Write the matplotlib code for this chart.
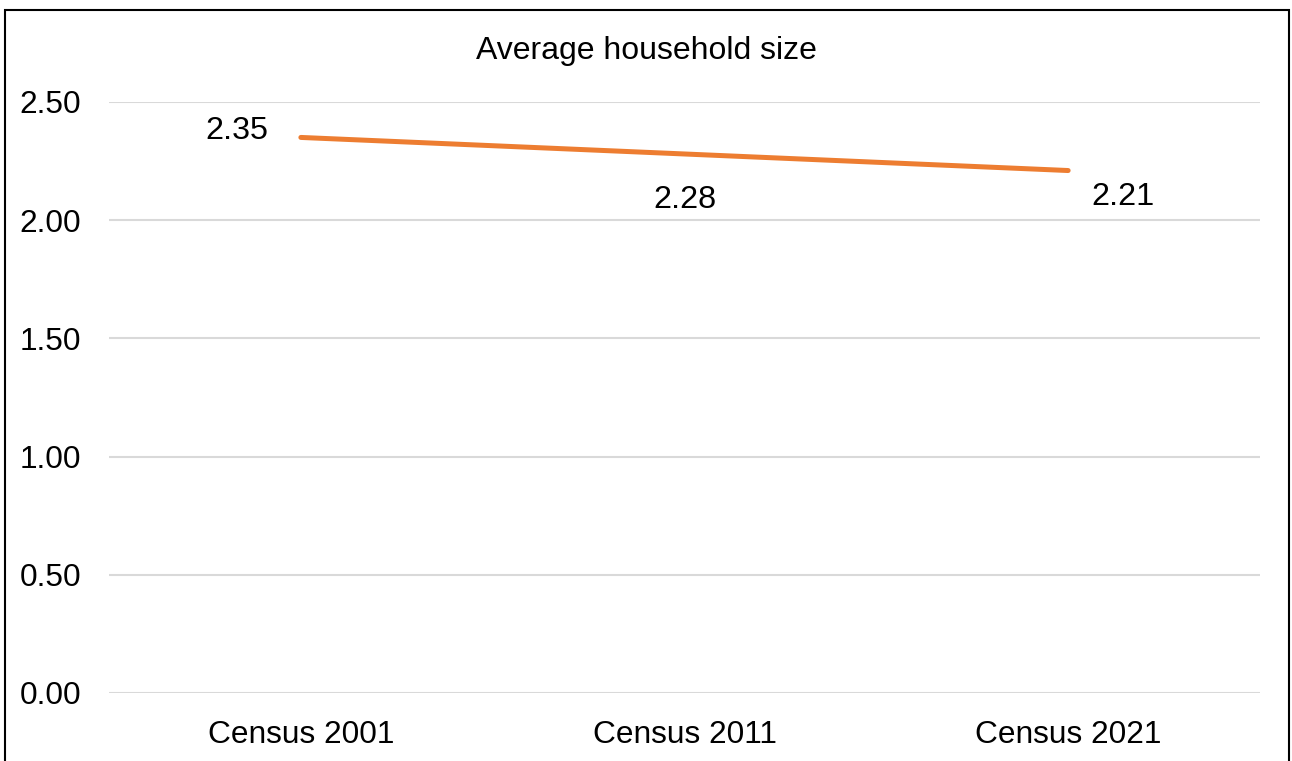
import matplotlib.pyplot as plt
from matplotlib.patches import Rectangle

plt.rcParams['font.family'] = ['Liberation Sans', 'DejaVu Sans']

censuses = ['Census 2001', 'Census 2011', 'Census 2021']
household_size = [2.35, 2.28, 2.21]
y_ticks = [0.0, 0.5, 1.0, 1.5, 2.0, 2.5]

# label offsets in pixels from each point
label_offsets = [(-64, 6), (0, -46), (55, -26)]

fig = plt.figure(figsize=(12.92, 7.61), dpi=100)
ax = fig.add_axes([0.0844, 0.0894, 0.8908, 0.7766])

x = list(range(len(censuses)))
ax.plot(x, household_size, color='#ED7D31', linewidth=3.6, solid_capstyle='round', zorder=3)

for xi, val, off in zip(x, household_size, label_offsets):
    ax.annotate(f'{val:.2f}', (xi, val), xytext=off, textcoords='offset pixels',
                ha='center', va='center', fontsize=23.3, color='black')

ax.set_xlim(-0.5, len(censuses) - 0.5)
ax.set_ylim(0, 2.5)
ax.set_xticks(x)
ax.set_xticklabels(censuses)
ax.set_yticks(y_ticks)
ax.set_yticklabels([f'{t:.2f}' for t in y_ticks])
ax.tick_params(axis='both', length=0, labelsize=22.8)
ax.tick_params(axis='y', pad=20)
ax.tick_params(axis='x', pad=19.5)
ax.grid(axis='y', color='#D9D9D9', linewidth=1.5)
ax.set_axisbelow(True)
for s in ax.spines.values():
    s.set_visible(False)

fig.text(0.5, 1 - 51 / 761, 'Average household size', ha='center', va='center', fontsize=23)

# outer chart border, bottom edge runs off the canvas
fig.patches.append(Rectangle((5 / 1292, -0.05), 1284 / 1292, 1.05 - 10 / 761,
                             transform=fig.transFigure, fill=False,
                             edgecolor='black', linewidth=1.5))

fig.savefig('out.png', dpi=100)
